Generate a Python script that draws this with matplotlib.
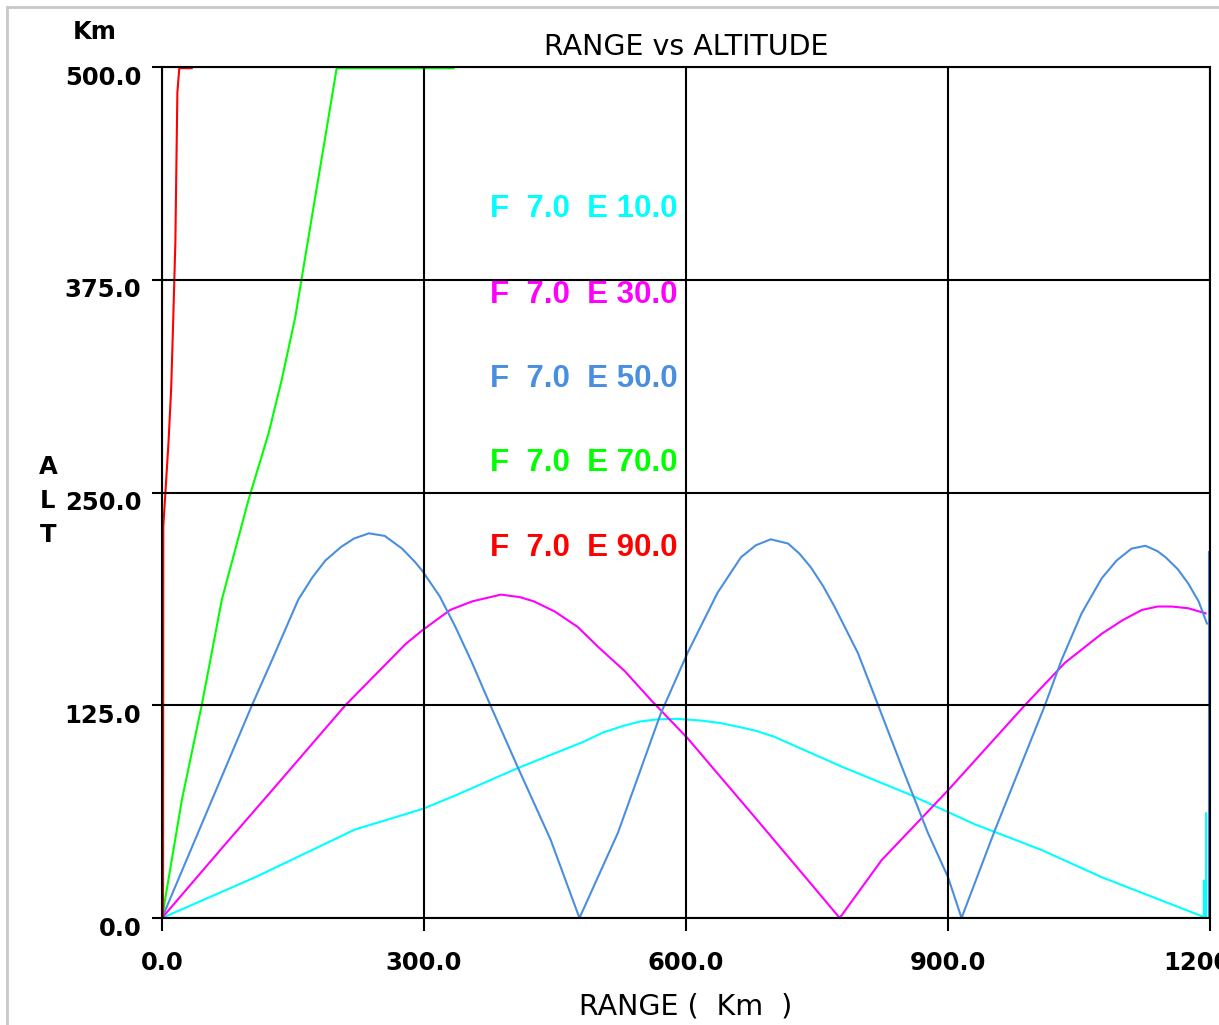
import numpy as np
import matplotlib
matplotlib.use("Agg")
import matplotlib.pyplot as plt
import matplotlib.transforms as mtransforms
from matplotlib.lines import Line2D

# ray paths, range (km) / altitude (km)
e10_x = [0, 107, 221, 298, 336, 407, 483, 505, 529, 548, 567, 590, 617, 640, 663, 680, 701,
         778, 854, 931, 1007, 1076, 1191]
e10_y = [0, 24, 52, 64, 72, 88, 103.6, 109, 113, 115.5, 116.7, 117, 116, 114.5, 112, 110, 106.5,
         89, 73, 55, 40, 24, 1]
e10_tail_x = [1191, 1193, 1193, 1195.5, 1195.5]
e10_tail_y = [0, 0, 22, 0, 61.5]

e30_x = [0, 68.5, 126, 210, 279, 298, 330, 355, 388, 410, 426, 450, 476, 500, 530, 560, 602,
         675, 740, 776, 824, 900, 988, 1034, 1076, 1100, 1122, 1140, 1156, 1175, 1195]
e30_y = [0, 41, 75, 125, 161, 169, 181, 186, 190, 188.5, 186, 180, 171, 159, 145, 128, 105.5,
         61.5, 22, 0, 34, 75, 125, 150, 167, 175, 181, 183, 183, 182, 179]

e50_x = [0, 103, 126, 156, 172, 187, 205, 220, 237, 255, 275, 290, 298, 318, 336, 355, 376,
         407, 445, 478, 522, 571, 602, 636, 663, 680, 697, 717, 730, 743, 757, 770, 797, 820,
         847, 877, 900, 915.5, 954, 1011, 1030, 1053, 1076, 1093, 1110, 1126, 1140, 1149, 1163,
         1175, 1187, 1196.5]
e50_y = [0, 125, 151.6, 187, 200, 210, 218, 223, 226, 224.5, 217, 209, 204, 189, 171, 150, 125,
         89, 46, 0, 50, 120, 156, 191, 212, 219, 222.5, 220, 214, 206, 195, 183, 155.5, 125,
         89, 50, 24, 0, 52, 125, 151.6, 179, 199.6, 210, 217, 218.7, 215.5, 212, 205,
         196.6, 186, 173]
e50_tail_x = [1198.5, 1198.5]
e50_tail_y = [0, 215]

e70_x = [0, 22.6, 45.5, 68.5, 99, 122, 137, 152.6, 160, 173.6, 187, 200, 334]
e70_y = [0, 69, 125, 187, 245.6, 284.7, 316, 353, 376, 418, 459, 499.3, 499.3]

e90_x = [0, 1.2, 1.5, 4.5, 7.5, 10.5, 13, 15.3, 17.6, 19.8, 34]
e90_y = [0, 0, 230, 255, 280, 311, 354, 397, 485, 499.3, 499.3]

labels = ["F  7.0  E 10.0", "F  7.0  E 30.0", "F  7.0  E 50.0", "F  7.0  E 70.0", "F  7.0  E 90.0"]
label_y = [416.5, 366, 316.7, 267.3, 217.4]
colors = ["#00ffff", "#ff00ff", "#4a8fdf", "#00ff00", "#ff0000"]

xticks = [0, 300, 600, 900, 1200]
yticks = [0, 125, 250, 375, 500]

fig = plt.figure(figsize=(12.19, 10.25), dpi=100)
fig.patch.set_facecolor("white")
ax = fig.add_axes([162/1219, 107/1025, 1048/1219, 851/1025])

lw = 1.5
ax.plot(e10_x, e10_y, color=colors[0], lw=lw)
ax.plot(e10_tail_x, e10_tail_y, color=colors[0], lw=lw)
ax.plot(e30_x, e30_y, color=colors[1], lw=lw)
ax.plot(e50_x, e50_y, color=colors[2], lw=lw)
ax.plot(e50_tail_x, e50_tail_y, color=colors[2], lw=lw)
ax.plot(e70_x, e70_y, color=colors[3], lw=lw)
ax.plot(e90_x, e90_y, color=colors[4], lw=lw)

for txt, yy, c in zip(labels, label_y, colors):
  ax.text(376, yy, txt, color=c, fontsize=22.5, fontweight="bold",
          family=["Liberation Sans", "DejaVu Sans"], ha="left", va="center")

ax.set_xlim(0, 1200)
ax.set_ylim(0, 500)
ax.set_axisbelow(False)
ax.grid(True, color="black", lw=1.5)
for s in ax.spines.values():
  s.set_color("black")
  s.set_linewidth(1.5)

ax.set_xticks(xticks)
ax.set_yticks(yticks)
ax.set_xticklabels([f"{v:.1f}" for v in xticks])
ax.set_yticklabels([f"{v:.1f}" for v in yticks])
ax.tick_params(axis="x", direction="out", length=9, width=1.5, pad=15,
               labelsize=17.5)
ax.tick_params(axis="y", direction="out", length=7, width=1.5, pad=8,
               labelsize=17.5)
for lab in ax.get_xticklabels() + ax.get_yticklabels():
  lab.set_fontweight("bold")
shift = mtransforms.ScaledTranslation(0, -8/100, fig.dpi_scale_trans)
for lab in ax.get_yticklabels():
  lab.set_transform(lab.get_transform() + shift)

ax.set_title("RANGE vs ALTITUDE", fontsize=20.5, pad=9)
ax.set_xlabel("RANGE (  Km  )", fontsize=20.5, labelpad=12)

fig.text(95/1219, 1 - 32/1025, "Km", fontsize=17.5, fontweight="bold",
         ha="center", va="center")
for ch, py in zip("ALT", [467, 501, 535]):
  fig.text(48/1219, 1 - py/1025, ch, fontsize=17.5, fontweight="bold",
           ha="center", va="center")

# window frame, light gray, top and left
fig.add_artist(Line2D([7/1219, 7/1219], [0, 1 - 7/1025], transform=fig.transFigure,
                      color="#c8c8c8", lw=2))
fig.add_artist(Line2D([7/1219, 1], [1 - 7/1025, 1 - 7/1025], transform=fig.transFigure,
                      color="#c8c8c8", lw=2))

fig.savefig("out.png", dpi=100, facecolor="white")
